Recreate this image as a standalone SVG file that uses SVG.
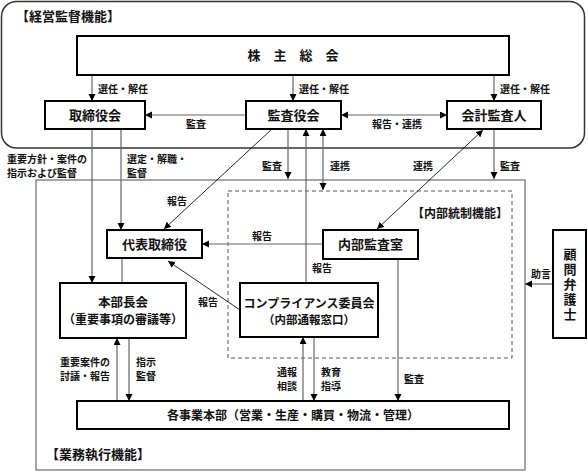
<svg xmlns="http://www.w3.org/2000/svg" width="588" height="472" viewBox="0 0 588 472">
<defs>
<style>
text{font-family:"Noto Sans CJK JP","Noto Sans CJK SC",sans-serif;fill:#111}
.box{fill:#fff;stroke:#000;stroke-width:2}
.bt{font-size:13px;font-weight:bold;text-anchor:middle}
.lb{font-size:10px;font-weight:bold}
.sec{font-size:13px;font-weight:bold}
.c{fill:none;stroke:#666;stroke-width:1.2}
.d{fill:none;stroke:#111;stroke-width:0.9}
.vt{writing-mode:vertical-rl;letter-spacing:2px}
</style>
<marker id="ah" markerUnits="userSpaceOnUse" markerWidth="8" markerHeight="8" refX="7" refY="3.5" orient="auto-start-reverse">
<path d="M0,0 L7,3.5 L0,7 z" fill="#000"/>
</marker>
</defs>
<g id="frame-keiei">
<rect x="1.5" y="1.5" width="583" height="146.5" rx="15" fill="none" stroke="#333" stroke-width="1.5"/>
<text class="sec" x="16" y="21">【経営監督機能】</text>
</g>
<g id="frame-gyomu">
<rect x="36" y="180" width="489" height="290" fill="none" stroke="#777" stroke-width="1.3"/>
<text class="sec" x="46" y="459">【業務執行機能】</text>
</g>
<g id="frame-naibu">
<rect x="228" y="191" width="284" height="167" fill="none" stroke="#555" stroke-width="1" stroke-dasharray="4,3"/>
<text class="sec" x="508" y="218" text-anchor="end" style="font-size:12px">【内部統制機能】</text>
</g>
<g id="connectors">
<line class="c" x1="92" y1="75" x2="92" y2="101" marker-end="url(#ah)"/>
<line class="c" x1="293" y1="75" x2="293" y2="101" marker-end="url(#ah)"/>
<line class="c" x1="494" y1="75" x2="494" y2="101" marker-end="url(#ah)"/>
<line class="c" x1="246" y1="115" x2="145" y2="115" marker-end="url(#ah)"/>
<line class="c" x1="341" y1="115" x2="447" y2="115" marker-start="url(#ah)" marker-end="url(#ah)"/>
<line class="c" x1="92" y1="129" x2="92" y2="283" marker-end="url(#ah)"/>
<line class="c" x1="121" y1="129" x2="121" y2="230" marker-end="url(#ah)"/>
<line class="c" x1="122" y1="258" x2="122" y2="283"/>
<line class="d" x1="272" y1="129" x2="164" y2="229" marker-end="url(#ah)"/>
<line class="c" x1="288" y1="129" x2="288" y2="179" marker-end="url(#ah)"/>
<line class="c" x1="306" y1="283" x2="306" y2="129" marker-end="url(#ah)"/>
<line class="c" x1="323" y1="129" x2="323" y2="190" marker-start="url(#ah)" marker-end="url(#ah)"/>
<line class="d" x1="483" y1="130" x2="377" y2="229" marker-start="url(#ah)" marker-end="url(#ah)"/>
<line class="c" x1="494" y1="129" x2="494" y2="179" marker-end="url(#ah)"/>
<line class="c" x1="323" y1="244" x2="202" y2="244" marker-end="url(#ah)"/>
<line class="d" x1="240" y1="310" x2="168" y2="261" marker-end="url(#ah)"/>
<line class="c" x1="398" y1="259" x2="398" y2="401" marker-end="url(#ah)"/>
<line class="c" x1="303" y1="401" x2="303" y2="337" marker-end="url(#ah)"/>
<line class="c" x1="314" y1="337" x2="314" y2="401" marker-end="url(#ah)"/>
<line class="c" x1="117" y1="401" x2="117" y2="338" marker-end="url(#ah)"/>
<line class="c" x1="129" y1="338" x2="129" y2="401" marker-end="url(#ah)"/>
<line class="c" x1="553" y1="284" x2="525" y2="284" marker-end="url(#ah)"/>
<text class="lb" x="98" y="93">選任・解任</text>
<text class="lb" x="299" y="93">選任・解任</text>
<text class="lb" x="500" y="93">選任・解任</text>
<text class="lb" x="186" y="128">監査</text>
<text class="lb" x="372" y="128">報告・連携</text>
<text class="lb" x="7" y="163">重要方針・案件の<tspan x="7" dy="14">指示および監督</tspan></text>
<text class="lb" x="127" y="163">選定・解職・<tspan x="127" dy="14">監督</tspan></text>
<text class="lb" x="167" y="205">報告</text>
<text class="lb" x="262" y="170">監査</text>
<text class="lb" x="330" y="170">連携</text>
<text class="lb" x="413" y="170">連携</text>
<text class="lb" x="500" y="170">監査</text>
<text class="lb" x="252" y="240">報告</text>
<text class="lb" x="312" y="272">報告</text>
<text class="lb" x="198" y="306">報告</text>
<text class="lb" x="531" y="278">助言</text>
<text class="lb" x="60" y="366">重要案件の<tspan x="60" dy="14">討議・報告</tspan></text>
<text class="lb" x="136" y="366">指示<tspan x="136" dy="14">監督</tspan></text>
<text class="lb" x="297" y="376" text-anchor="end">通報<tspan x="297" dy="14">相談</tspan></text>
<text class="lb" x="321" y="376">教育<tspan x="321" dy="14">指導</tspan></text>
<text class="lb" x="404" y="383">監査</text>
</g>
<g id="kabunushi">
<rect class="box" x="77" y="36" width="432" height="39"/>
<text class="bt" x="293" y="60">株　主　総　会</text>
</g>
<g id="torishimariyakukai">
<rect class="box" x="45" y="101" width="100" height="28"/>
<text class="bt" x="95" y="120">取締役会</text>
</g>
<g id="kansayakukai">
<rect class="box" x="246" y="101" width="95" height="28"/>
<text class="bt" x="293.5" y="120">監査役会</text>
</g>
<g id="kaikei">
<rect class="box" x="447" y="101" width="94" height="28"/>
<text class="bt" x="494" y="120">会計監査人</text>
</g>
<g id="daihyo">
<rect class="box" x="107" y="230" width="95" height="28"/>
<text class="bt" x="154.5" y="249">代表取締役</text>
</g>
<g id="naibukansa">
<rect class="box" x="323" y="230" width="95" height="29"/>
<text class="bt" x="370.5" y="249">内部監査室</text>
</g>
<g id="honbucho">
<rect class="box" x="60" y="283" width="126" height="55"/>
<text class="bt" x="123" y="307" style="font-size:12.5px">本部長会<tspan x="123" dy="17" style="font-size:12px">（重要事項の審議等）</tspan></text>
</g>
<g id="compliance">
<rect class="box" x="240" y="283" width="138" height="54"/>
<text class="bt" x="309" y="308" style="font-size:12px">コンプライアンス委員会<tspan x="309" dy="16" style="font-size:11.5px">（内部通報窓口）</tspan></text>
</g>
<g id="jigyohonbu">
<rect class="box" x="77" y="401" width="432" height="28"/>
<text class="bt" x="293" y="420" style="font-size:12px">各事業本部（営業・生産・購買・物流・管理）</text>
</g>
<g id="komon">
<rect class="box" x="553" y="230" width="33" height="108"/>
<text class="bt vt" x="570" y="285">顧問弁護士</text>
</g>
</svg>
